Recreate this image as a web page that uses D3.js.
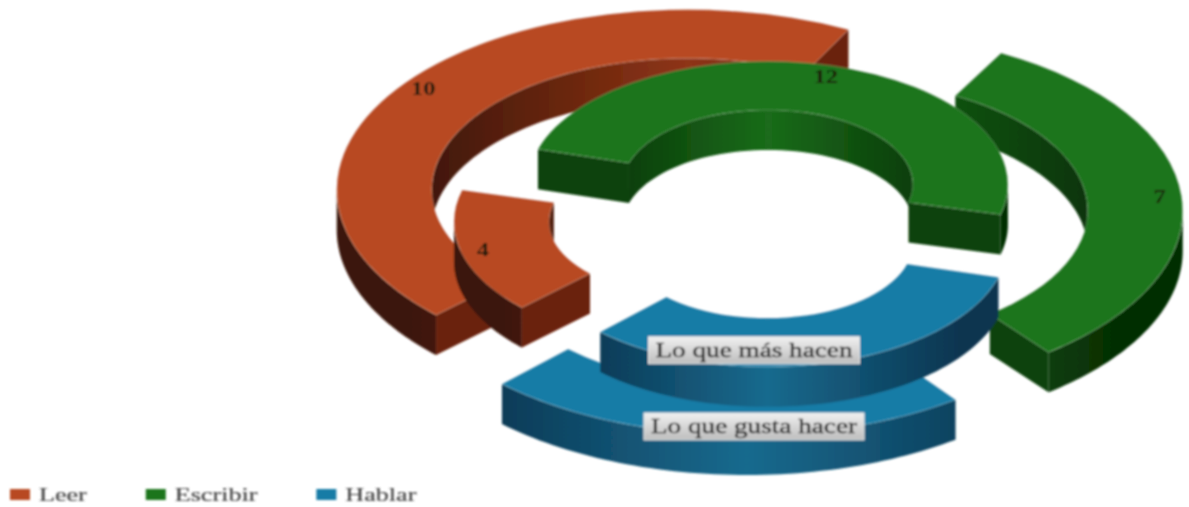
<!DOCTYPE html>
<html>
<head>
<meta charset="utf-8">
<script src="https://cdn.jsdelivr.net/npm/d3@7"></script>
<style>
  html, body { margin: 0; padding: 0; background: #fff; overflow: hidden; }
  text { font-family: "Liberation Serif", serif; }
</style>
</head>
<body>
<div id="graf"></div>
<script>
// Data
const categorias = ["Leer", "Escribir", "Hablar"]
const loQueGustaHacer = [10, 7, 5]
const loQueMasHacen = [4, 12, 8]
const nombresAnillo = ["Lo que gusta hacer", "Lo que más hacen"]

// Colores por categoria
const colorTapa = ["#b84a22", "#1a741a", "#177ba6"]
const colorCorte = ["#6a2409", "#0e430c", "#0f4a6a"]
const colorParedClaro = ["#8e3415", "#1a6c1a", "#176a8e"]
const colorParedOscuro = ["#3a1507", "#062f05", "#0c3550"]

const ancho = 1189
const alto = 507
const centro = { x: 752, y: 214 }
const aplastado = 0.513
const profundidad = 40
const inicio = (225 * Math.PI) / 180
const separacion = 0.028
const escalaTexto = 1.36
const escalaLeyenda = 1.45

const anillos = [
  { valores: loQueGustaHacer, nombre: nombresAnillo[0], rExt: 351, rInt: 256, salto: 80, etiquetaDy: 172 },
  { valores: loQueMasHacen, nombre: nombresAnillo[1], rExt: 240, rInt: 145, salto: 60, etiquetaDy: 107 },
]

const svg = d3.select("#graf").append("svg").attr("width", ancho).attr("height", alto)
const defs = svg.append("defs")
defs.append("filter")
  .attr("id", "borroso")
  .attr("x", "-5%").attr("y", "-5%").attr("width", "110%").attr("height", "110%")
  .append("feGaussianBlur")
  .attr("stdDeviation", 0.9)

const etiquetaBoton = defs.append("linearGradient")
  .attr("id", "boton").attr("x1", 0).attr("y1", 0).attr("x2", 0).attr("y2", 1)
etiquetaBoton.append("stop").attr("offset", 0).attr("stop-color", "#f0f0f0")
etiquetaBoton.append("stop").attr("offset", 1).attr("stop-color", "#bdbdbd")

const g = svg.append("g").attr("filter", "url(#borroso)")

const pie = d3.pie().sort(null).startAngle(inicio).endAngle(inicio + 2 * Math.PI).padAngle(separacion)
const line = d3.line()

const punto = (r, a, dz = 0) => [r * Math.sin(a), -r * Math.cos(a) * aplastado + dz]

// tramos de [a0, a1] que caen dentro de la mitad visible de la pared
const tramos = (a0, a1, desde) => {
  const res = []
  for (let n = -1; n < 3; n++) {
    const ini = Math.max(a0, desde + n * 2 * Math.PI)
    const fin = Math.min(a1, desde + Math.PI + n * 2 * Math.PI)
    if (fin > ini) res.push([ini, fin])
  }
  return res
}

const pared = (r, a0, a1) => {
  const angulos = d3.range(0, 61).map((i) => a0 + ((a1 - a0) * i) / 60)
  const arriba = angulos.map((a) => punto(r, a))
  const abajo = angulos.slice().reverse().map((a) => punto(r, a, profundidad))
  return line(arriba.concat(abajo)) + "Z"
}

const corte = (anillo, a) =>
  line([
    punto(anillo.rExt, a),
    punto(anillo.rInt, a),
    punto(anillo.rInt, a, profundidad),
    punto(anillo.rExt, a, profundidad),
  ]) + "Z"

const render = () => {
  anillos.forEach((anillo, ia) => {
    const arco = d3.arc().innerRadius(anillo.rInt).outerRadius(anillo.rExt).padAngle(0)

    pie(anillo.valores).forEach((d) => {
      const medio = (d.startAngle + d.endAngle) / 2
      const a0 = d.startAngle + separacion / 2
      const a1 = d.endAngle - separacion / 2
      const cx = centro.x + anillo.salto * Math.sin(medio)
      const cy = centro.y - anillo.salto * aplastado * Math.cos(medio)
      const s = g.append("g").attr("transform", `translate(${cx}, ${cy})`)

      const gradId = `pared-${ia}-${d.index}`
      const grad = defs.append("linearGradient")
        .attr("id", gradId)
        .attr("gradientUnits", "userSpaceOnUse")
        .attr("x1", -anillo.rExt).attr("x2", anillo.rExt).attr("y1", 0).attr("y2", 0)
      grad.append("stop").attr("offset", 0.1).attr("stop-color", colorParedOscuro[d.index])
      grad.append("stop").attr("offset", 0.5).attr("stop-color", colorParedClaro[d.index])
      grad.append("stop").attr("offset", 0.9).attr("stop-color", colorParedOscuro[d.index])

      // pared interior: se ve en la mitad de atras
      tramos(a0, a1, (3 * Math.PI) / 2 - 2 * Math.PI).forEach(([b0, b1]) => {
        s.append("path").attr("d", pared(anillo.rInt, b0, b1)).attr("fill", `url(#${gradId})`)
      })

      // pared exterior: mitad de adelante
      tramos(a0, a1, Math.PI / 2).forEach(([b0, b1]) => {
        s.append("path").attr("d", pared(anillo.rExt, b0, b1)).attr("fill", `url(#${gradId})`)
      })

      // cortes, solo los que miran hacia el frente
      if (Math.sin(a0) < 0) {
        s.append("path").attr("d", corte(anillo, a0)).attr("fill", colorCorte[d.index])
      }
      if (Math.sin(a1) > 0) {
        s.append("path").attr("d", corte(anillo, a1)).attr("fill", colorCorte[d.index])
      }

      // tapa
      s.append("path")
        .attr("d", arco({ startAngle: a0, endAngle: a1 }))
        .attr("transform", `scale(1, ${aplastado})`)
        .attr("fill", colorTapa[d.index])
        .attr("stroke", "#fff")
        .attr("stroke-opacity", 0.22)
        .attr("stroke-width", 1)
        .attr("vector-effect", "non-scaling-stroke")
    })
  })

  // valores y nombres de anillo, encima de todo
  anillos.forEach((anillo) => {
    pie(anillo.valores).forEach((d) => {
      const medio = (d.startAngle + d.endAngle) / 2
      const cx = centro.x + anillo.salto * Math.sin(medio)
      const cy = centro.y - anillo.salto * aplastado * Math.cos(medio)

      if (categorias[d.index] === "Hablar") {
        const bx = centro.x + 2
        const by = cy + anillo.etiquetaDy
        const t = g.append("g").attr("transform", `translate(${bx}, ${by})`)
        const texto = t.append("text")
          .attr("text-anchor", "middle")
          .attr("y", 6)
          .attr("transform", `scale(${escalaTexto}, 1)`)
          .attr("font-size", 20)
          .attr("fill", "#2b2b2b")
          .attr("stroke", "#2b2b2b")
          .attr("stroke-width", 0.35)
          .text(anillo.nombre)
        const w = texto.node().getComputedTextLength() * escalaTexto + 14
        t.insert("rect", "text")
          .attr("x", -w / 2).attr("y", -14)
          .attr("width", w).attr("height", 27)
          .attr("fill", "url(#boton)")
          .attr("stroke", "#e8e8e8")
          .attr("stroke-width", 1)
        return
      }

      const [x, y] = punto(anillo.rExt - 22, medio)
      g.append("text")
        .attr("transform", `translate(${cx + x}, ${cy + y}) scale(${escalaTexto}, 1)`)
        .attr("text-anchor", "middle")
        .attr("dy", "0.35em")
        .attr("font-size", 18)
        .attr("font-weight", "bold")
        .attr("fill", "#1a1a10")
        .text(d.value)
    })
  })

  // Leyenda
  let xLeyenda = 10
  categorias.forEach((c, i) => {
    g.append("rect")
      .attr("x", xLeyenda).attr("y", 489)
      .attr("width", 20).attr("height", 11)
      .attr("fill", colorTapa[i])
    const t = g.append("text")
      .attr("transform", `translate(${xLeyenda + 29}, 501) scale(${escalaLeyenda}, 1)`)
      .attr("font-size", 18)
      .attr("fill", "#4a4a4a")
      .attr("stroke", "#4a4a4a")
      .attr("stroke-width", 0.25)
      .text(c)
    xLeyenda += 29 + t.node().getComputedTextLength() * escalaLeyenda + 59
  })
}

render()
</script>
</body>
</html>
